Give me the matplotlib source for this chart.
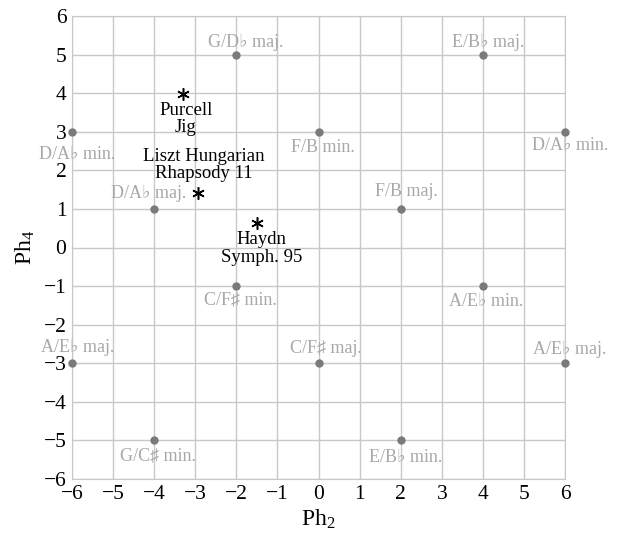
import matplotlib
matplotlib.use("Agg")
import matplotlib.pyplot as plt

plt.rcParams['font.family'] = ['Liberation Serif', 'DejaVu Serif']
plt.rcParams['mathtext.fontset'] = 'custom'
plt.rcParams['mathtext.rm'] = 'Liberation Serif'
plt.rcParams['mathtext.it'] = 'Liberation Serif:italic'

# key positions on the Ph2/Ph4 plane
key_x = [-2, 4, -6, 0, 6, -4, 2, -2, 4, -6, 0, 6, -4, 2]
key_y = [5, 5, 3, 3, 3, 1, 1, -1, -1, -3, -3, -3, -5, -5]
key_names = ["G/D\u266d maj.", "E/B\u266d maj.", "D/A\u266d min.", "F/B min.",
	"D/A\u266d min.", "D/A\u266d maj.", "F/B maj.", "C/F\u266f min.",
	"A/E\u266d min.", "A/E\u266d maj.", "C/F\u266f maj.", "A/E\u266d maj.",
	"G/C\u266f min.", "E/B\u266d min."]

# pieces
piece_x = [-3.3, -2.93, -1.5]
piece_y = [3.98, 1.41, 0.63]
piece_names = ["Purcell\nJig", "Liszt Hungarian\nRhapsody 11", "Haydn\nSymph. 95"]

# label placement, pixels from the mark
key_off = [(9, 12), (5, 12), (5, -23), (4, -16), (5, -14), (-6, 16), (6, 17),
	(4, -14), (3, -15), (6, 16), (7, 15), (5, 14), (4, -15), (5, -17)]
piece_off = [(3, -25), (6, 28), (5, -25)]

grey = "#c8c8c8"
fig = plt.figure(figsize=(6.18, 5.36), dpi=100)
ax = fig.add_axes([72 / 618, 57 / 536, 493 / 618, 463 / 536])

ax.plot(key_x, key_y, "o", color="#7a7a7a", markersize=5, clip_on=False, zorder=3)
for x, y, name, off in zip(key_x, key_y, key_names, key_off):
	ax.annotate(name, (x, y), xytext=off, textcoords="offset pixels",
		ha="center", va="center", color="#a8a8a8", fontsize=13)

ax.plot(piece_x, piece_y, linestyle="none", marker=(6, 2, 0), color="black",
	markersize=9, markeredgewidth=1.1, zorder=4)
for x, y, name, off in zip(piece_x, piece_y, piece_names, piece_off):
	ax.annotate(name, (x, y), xytext=off, textcoords="offset pixels",
		ha="center", va="center", fontsize=13.5, linespacing=1.05)

ax.set_xlim(-6, 6)
ax.set_ylim(-6, 6)
ax.set_xticks(range(-6, 7))
ax.set_yticks(range(-6, 7))
ax.grid(True, color=grey, linewidth=1)
ax.set_axisbelow(True)
for s in ax.spines.values():
	s.set_color(grey)
ax.tick_params(length=0, labelsize=15.5, pad=4)
ax.set_xlabel("Ph$_2$", fontsize=17, labelpad=3)
ax.set_ylabel("Ph$_4$", fontsize=17, labelpad=5)

plt.savefig("out.png")
